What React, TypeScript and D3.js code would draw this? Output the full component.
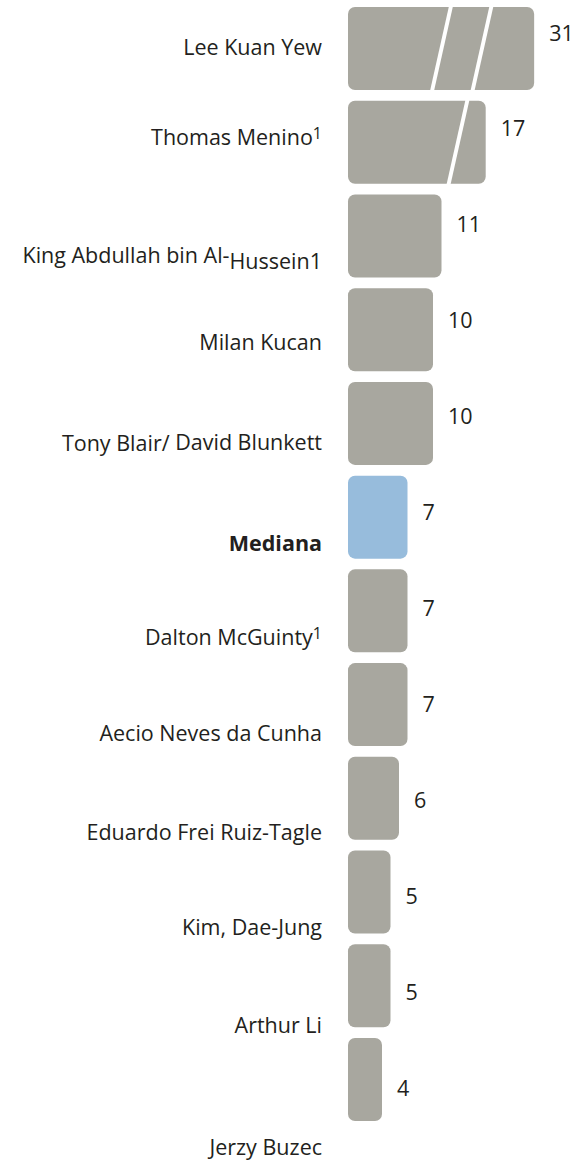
import React from 'react';
import * as d3 from 'd3';

// ---- data ----
const names: string[] = [
  'Lee Kuan Yew',
  'Thomas Menino',
  'King Abdullah bin Al-Hussein',
  'Milan Kucan',
  'Tony Blair/ David Blunkett',
  'Mediana',
  'Dalton McGuinty',
  'Aecio Neves da Cunha',
  'Eduardo Frei Ruiz-Tagle',
  'Kim, Dae-Jung',
  'Arthur Li',
  'Jerzy Buzec',
];
const values: number[] = [31, 17, 11, 10, 10, 7, 7, 7, 6, 5, 5, 4];
const footnotes: string[] = ['', '1', '1', '', '', '', '1', '', '', '', '', ''];
const highlighted: string[] = ['Mediana'];
// broken (truncated) bars: drawn length in value units, and where the breaks fall
const truncatedLength: (number | null)[] = [21.9, 16.2];
const breakPoints: number[][] = [[11.0, 15.76], [12.94]];

// ---- layout ----
const W = 581;
const H = 1163;
const X0 = 348;
const LABEL_X = 322;
const labelNudge = [0, -8, 12, 2, 5, 7, 3, 1, 3, 0, 0, 24];

const GRAY = '#a8a79f';
const BLUE = '#97bcdc';
const TEXT = '#231f20';
const FONT = '"Open Sans", "Noto Sans", sans-serif';
const FS = 21.5;

export default function App() {
  const idx = d3.range(names.length);
  const x = d3.scaleLinear().domain([0, 10]).range([0, 85]);
  const barTop = d3.scaleLinear().domain([0, names.length - 1]).range([7, 1038]);
  const barH = 83;
  const valueY = d3.scaleLinear().domain([0, names.length - 1]).range([33, 1088]);
  const labelY = d3.scaleLinear().domain([0, 10]).range([55, 1033]);

  const slant = 9.5;
  const gapW = 4;

  const renderLabel = (i: number) => {
    const name = names[i];
    const note = footnotes[i];
    const bold = highlighted.includes(name);
    const y = labelY(i) + labelNudge[i];
    if (name.includes('-Hussein')) {
      const cut = name.indexOf('Hussein');
      return (
        <text key={'l' + i} x={LABEL_X} y={y} textAnchor="end" fontFamily={FONT} fontSize={FS} fill={TEXT}>
          {name.slice(0, cut)}
          <tspan dy={6}>{name.slice(cut) + note}</tspan>
        </text>
      );
    }
    if (name.includes('/ ')) {
      const cut = name.indexOf('/ ') + 1;
      return (
        <text key={'l' + i} x={LABEL_X} y={y} textAnchor="end" fontFamily={FONT} fontSize={FS} fill={TEXT}>
          {name.slice(0, cut)}
          <tspan dy={-1.5}>{name.slice(cut)}</tspan>
        </text>
      );
    }
    return (
      <text key={'l' + i} x={LABEL_X} y={y} textAnchor="end" fontFamily={FONT} fontSize={FS}
        fontWeight={bold ? 700 : 400} fill={TEXT}>
        {name}
        {note ? <tspan dy={-6} fontSize={16}>{note}</tspan> : null}
      </text>
    );
  };

  return (
    <div style={{ position: 'absolute', left: 0, top: 0 }}>
      <svg width={W} height={H} viewBox={`0 0 ${W} ${H}`} style={{ display: 'block', background: '#fff' }}>
        {idx.map((i) => {
          const len = truncatedLength[i] ?? values[i];
          const w = x(len);
          const top = barTop(i);
          const fill = highlighted.includes(names[i]) ? BLUE : GRAY;
          const breaks = breakPoints[i] || [];
          return (
            <g key={'b' + i}>
              <rect x={X0} y={top} width={w} height={barH} rx={7} ry={7} fill={fill} />
              {breaks.map((bp, k) => {
                const cx = X0 + x(bp);
                const t = top - 1;
                const b = top + barH + 1;
                const pts = [
                  [cx + slant - gapW / 2, t],
                  [cx + slant + gapW / 2, t],
                  [cx - slant + gapW / 2, b],
                  [cx - slant - gapW / 2, b],
                ];
                return <polygon key={k} points={pts.map((p) => p.join(',')).join(' ')} fill="#fff" />;
              })}
              <text x={X0 + w + 15} y={valueY(i)} dy="0.35em" fontFamily={FONT} fontSize={FS} fill={TEXT}>
                {values[i]}
              </text>
            </g>
          );
        })}
        {idx.map((i) => renderLabel(i))}
      </svg>
    </div>
  );
}
